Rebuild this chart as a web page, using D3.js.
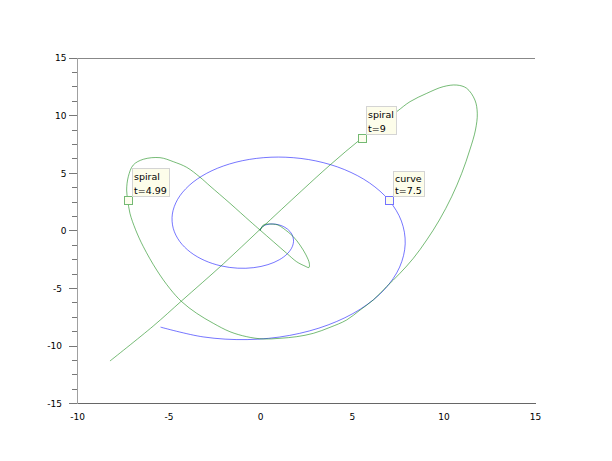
<!DOCTYPE html>
<html><head><meta charset="utf-8">
<script src="https://cdn.jsdelivr.net/npm/d3@7"></script>
<style>html,body{margin:0;padding:0;background:#fff;}svg{display:block;}</style>
</head><body><svg id="c" width="612" height="461"></svg>
<script>
const xTicks = [-10, -5, 0, 5, 10, 15];
const yTicks = [-15, -10, -5, 0, 5, 10, 15];

// "curve" (blue)
const curvePts = [
[0,0],[0.062,0.242],[0.240,0.439],[0.511,0.549],[0.842,0.540],[1.186,0.394],[1.496,0.106],
[1.722,-0.312],[1.819,-0.832],[1.751,-1.413],[1.496,-2.003],[1.050,-2.542],[0.423,-2.970],
[-0.352,-3.231],[-1.228,-3.278],[-2.143,-3.077],[-3.027,-2.615],[-3.804,-1.896],[-4.399,-0.949],
[-4.747,0.179],[-4.795,1.418],[-4.509,2.689],[-3.880,3.898],[-2.922,4.952],[-1.677,5.761],
[-0.207,6.247],[1.398,6.348],[3.038,6.028],[4.599,5.277],[5.968,4.117],[7.035,2.600],
[7.708,0.808],[7.915,-1.164],[7.611,-3.183],[6.787,-5.117],[5.467,-6.832],[3.709,-8.200],
[1.609,-9.109],[-0.714,-9.473],[-3.115,-9.239],[-5.440,-8.391]
];

// "spiral" (green)
const spiralPts = [
[0,0],[0.17,0.47],[0.43,0.55],[0.72,0.54],[0.97,0.47],[1.26,0.18],[1.81,-0.55],[2.17,-1.27],
[2.50,-2.13],[2.68,-2.85],[2.66,-3.22],[2.45,-3.10],[1.99,-2.72],[1.45,-1.99],[0.72,-0.98],
[0,0.02],[-0.56,0.80],[-1.65,2.35],[-2.74,3.85],[-3.29,4.62],[-4.01,5.47],[-4.74,5.96],
[-5.47,6.31],[-6.38,6.17],[-6.93,5.67],[-7.20,4.66],[-7.29,3.50],[-7.23,2.64],[-7.11,1.48],
[-6.80,0.05],[-6.38,-1.41],[-5.65,-3.44],[-4.92,-5.07],[-4.28,-6.19],[-3.47,-7.19],[-2.56,-8.06],
[-1.65,-8.79],[-0.74,-9.22],[0.17,-9.42],[1.08,-9.36],[1.99,-9.22],[2.90,-8.93],[3.81,-8.41],
[4.72,-7.77],[5.45,-6.91],[6.17,-6.04],[6.90,-4.88],[7.63,-3.72],[8.36,-2.42],[9.09,-0.83],
[9.78,0.90],[10.45,2.92],[11.00,4.95],[11.44,6.97],[11.75,8.71],[11.85,10.16],[11.72,11.31],
[11.27,12.33],[10.73,12.61],[9.99,12.47],[9.09,11.89],[8.18,11.17],[7.45,10.30],[5.56,8.02],
[3.81,5.67],[2.27,3.45],[0,0.10],[-2.01,-2.90],[-4.28,-6.10],[-5.84,-8.30],[-8.20,-11.33]
];

// datatips
const tipSeries = ["spiral", "spiral", "curve"];
const tipT = ["4.99", "9", "7.5"];
const tipX = [-7.23, 5.56, 7.035];
const tipY = [2.64, 8.02, 2.60];

const colors = { curve: "#0000ff", spiral: "#008000" };
const markColors = { curve: "#7373ff", spiral: "#73b973" };

const svg = d3.select("#c");
const x = d3.scaleLinear().domain([-10, 15]).range([77, 535]);
const y = d3.scaleLinear().domain([-15, 15]).range([403.3, 57.5]);

// top frame line
svg.append("line").attr("x1", x(-10)).attr("x2", x(15)).attr("y1", y(15) + 0.5).attr("y2", y(15) + 0.5)
  .attr("stroke", "#888").attr("shape-rendering", "crispEdges");

// y axis: minor ticks
const yMinor = d3.range(-15, 15.001, 1.25).filter(v => !yTicks.includes(v));
const yMinAx = svg.append("g").attr("transform", `translate(${x(-10)},0)`)
  .call(d3.axisLeft(y).tickValues(yMinor).tickSize(5).tickSizeOuter(0).tickFormat(""));
yMinAx.select(".domain").remove();
yMinAx.selectAll("line").attr("stroke", "#777").attr("shape-rendering", "crispEdges");

// y axis: major ticks
const yAx = svg.append("g").attr("transform", `translate(${x(-10)},0)`)
  .call(d3.axisLeft(y).tickValues(yTicks).tickSize(8).tickSizeOuter(0).tickFormat(d => d));
yAx.select(".domain").attr("stroke", "#a0a0a0").attr("shape-rendering", "crispEdges");
yAx.selectAll("line").attr("stroke", "#777").attr("shape-rendering", "crispEdges");
yAx.selectAll("text")
  .attr("font-family", "DejaVu Sans").attr("font-size", 9).attr("fill", "#000")
  .attr("x", d => d < 0 ? -15 : -10.5).attr("dy", "0.36em");

// x axis
const xAx = svg.append("g").attr("transform", `translate(0,${y(-15)})`)
  .call(d3.axisBottom(x).tickValues(xTicks).tickSize(0).tickSizeOuter(0).tickPadding(10).tickFormat(d => d));
xAx.select(".domain").attr("stroke", "#666").attr("shape-rendering", "crispEdges");
xAx.selectAll("text").attr("font-family", "DejaVu Sans").attr("font-size", 9).attr("fill", "#000");

// curves
const line = d3.line().x(d => x(d[0])).y(d => y(d[1])).curve(d3.curveCatmullRom.alpha(0.5));
svg.append("path").attr("d", line(curvePts)).attr("fill", "none")
  .attr("stroke", colors.curve).attr("stroke-width", 0.9).attr("stroke-opacity", 0.6);
svg.append("path").attr("d", line(spiralPts)).attr("fill", "none")
  .attr("stroke", colors.spiral).attr("stroke-width", 0.9).attr("stroke-opacity", 0.6);

// datatips
tipSeries.forEach((s, i) => {
  const px = Math.round(x(tipX[i])) + 0.5, py = Math.round(y(tipY[i])) + 0.5;
  const g = svg.append("g");
  g.append("rect").attr("x", px - 4).attr("y", py - 4).attr("width", 8).attr("height", 8)
    .attr("fill", "#fdfdee").attr("stroke", markColors[s]).attr("shape-rendering", "crispEdges");
  const tall = /[gjpqy]/.test(s);
  const h = tall ? 28 : 25, b1 = tall ? 11.8 : 10.8, b2 = tall ? 25.2 : 22.6;
  const left = px + 4, top = py - 4 - h;
  const box = g.append("rect").attr("y", top).attr("x", left).attr("height", h)
    .attr("fill", "#fdfdea").attr("stroke", "#d4d4d4").attr("shape-rendering", "crispEdges");
  const t1 = g.append("text").attr("x", left + 1.5).attr("y", top + b1).text(s);
  const t2 = g.append("text").attr("x", left + 1.5).attr("y", top + b2).text("t=" + tipT[i]);
  g.selectAll("text").attr("font-family", "DejaVu Sans").attr("font-size", 9.5).attr("fill", "#000");
  const w = Math.max(t1.node().getComputedTextLength(), t2.node().getComputedTextLength());
  box.attr("width", Math.round(w + 4));
});
</script>
</body></html>
